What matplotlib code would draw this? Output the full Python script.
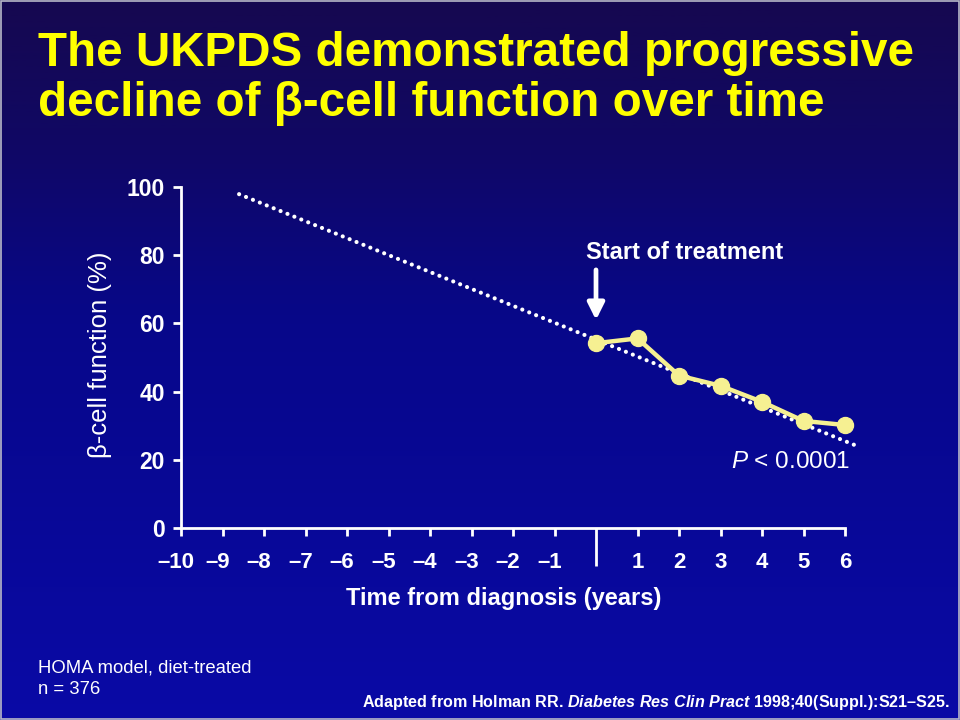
import numpy as np
import matplotlib
matplotlib.use("Agg")
import matplotlib.pyplot as plt
from matplotlib.colors import LinearSegmentedColormap
from matplotlib.patches import Rectangle
from matplotlib.transforms import ScaledTranslation

plt.rcParams['font.family'] = ['Liberation Sans', 'DejaVu Sans']
plt.rcParams['mathtext.fontset'] = 'custom'
plt.rcParams['mathtext.rm'] = 'Liberation Sans'
plt.rcParams['mathtext.it'] = 'Liberation Sans:italic:bold'
plt.rcParams['mathtext.bf'] = 'Liberation Sans:bold'
plt.rcParams['mathtext.sf'] = 'Liberation Sans:italic'

# ---- data ----
years = [0, 1, 2, 3, 4, 5, 6]
beta_function = [54.2, 55.6, 44.7, 41.7, 37.0, 31.4, 30.2]
trend_years = [-8.6, 6.3]
trend_values = [97.9, 24.0]
xtick_values = [-10, -9, -8, -7, -6, -5, -4, -3, -2, -1, 1, 2, 3, 4, 5, 6]
xtick_labels = ['–10', '–9', '–8', '–7', '–6', '–5', '–4', '–3', '–2', '–1',
                '1', '2', '3', '4', '5', '6']
ytick_values = [0, 20, 40, 60, 80, 100]
ytick_labels = ['0', '20', '40', '60', '80', '100']

W, H = 960, 720
fig = plt.figure(figsize=(W / 100, H / 100), dpi=100)

# background gradient
bg = fig.add_axes([0, 0, 1, 1], zorder=-10)
cmap = LinearSegmentedColormap.from_list(
    'bg', [(0.0, '#160850'), (0.18, '#110862'), (0.45, '#07078a'), (1.0, '#0a0aa6')])
grad = np.linspace(0, 1, 256).reshape(-1, 1)
bg.imshow(grad, aspect='auto', cmap=cmap, extent=[0, 1, 0, 1], origin='upper')
bg.set_xlim(0, 1); bg.set_ylim(0, 1)
bg.axis('off')
bg.add_patch(Rectangle((0.001, 0.001), 0.998, 0.998, fill=False,
                       edgecolor='#b8b8c8', lw=1.2))

white = 'white'
yellow = '#f6f092'

ax = fig.add_axes([181 / W, 1 - 528 / H, (845 - 181) / W, (528 - 187) / H])
ax.set_facecolor('none')
ax.set_xlim(-10, 6)
ax.set_ylim(0, 100)

for s in ['top', 'right']:
    ax.spines[s].set_visible(False)
for s in ['left', 'bottom']:
    ax.spines[s].set_color(white)
    ax.spines[s].set_linewidth(2.0)

ax.set_xticks(xtick_values)
ax.set_xticklabels(xtick_labels)
ax.set_xticks([0], minor=True)
ax.set_yticks(ytick_values)
ax.set_yticklabels(ytick_labels)
ax.tick_params(axis='x', which='major', direction='out', length=5.5, width=2.0,
               color=white, labelcolor=white, labelsize=16, pad=11.5)
ax.tick_params(axis='x', which='minor', direction='out', length=27, width=2.0,
               color=white)
ax.tick_params(axis='y', direction='out', length=5.5, width=2.0,
               color=white, labelcolor=white, labelsize=16.5, pad=6)
for lab in ax.get_xticklabels() + ax.get_yticklabels():
    lab.set_fontweight('bold')
shift = ScaledTranslation(-5 / 100, 0, fig.dpi_scale_trans)
for lab in ax.get_xticklabels():
    if lab.get_text().startswith('–'):
        lab.set_transform(lab.get_transform() + shift)

# trend (dotted)
ax.plot(trend_years, trend_values, color=white, lw=3.0, dashes=(0.01, 1.78),
        dash_capstyle='round', clip_on=False, zorder=2)
# data
ax.plot(years, beta_function, color=yellow, lw=3.2, marker='o', markersize=11.5,
        markerfacecolor=yellow, markeredgecolor=yellow, clip_on=False, zorder=3)

# arrow and annotations
ax.annotate('', xy=(years[0], beta_function[0] + 6.8),
            xytext=(years[0], beta_function[0] + 21.5),
            arrowprops=dict(arrowstyle='-|>,head_length=1.0,head_width=0.5',
                            color=white, lw=3.4, shrinkA=0, shrinkB=0))
ax.text(2.14, 80.9, 'Start of treatment', color=white, fontsize=17,
        fontweight='bold', ha='center', va='center')
ax.text(6.12, 19.4, r'$\mathsf{P}$ < 0.0001', color=white, fontsize=17.5,
        ha='right', va='center')

# axis labels
fig.text(100 / W, 1 - 355 / H, 'β-cell function (%)', rotation=90, color=white,
         fontsize=18.5, ha='center', va='center')
fig.text(504 / W, 1 - 598 / H, 'Time from diagnosis (years)', color=white,
         fontsize=17, fontweight='bold', ha='center', va='center')

# title
fig.text(38 / W, 1 - 53 / H, 'The UKPDS demonstrated progressive', color='#ffff00',
         fontsize=34.3, fontweight='bold', ha='left', va='center')
fig.text(38 / W, 1 - 104 / H, 'decline of β-cell function over time', color='#ffff00',
         fontsize=34.3, fontweight='bold', ha='left', va='center')

# footer
fig.text(38 / W, 1 - 668 / H, 'HOMA model, diet-treated', color=white,
         fontsize=13.3, ha='left', va='center')
fig.text(38 / W, 1 - 690 / H, 'n = 376', color=white,
         fontsize=13.3, ha='left', va='center')
fig.text(950 / W, 1 - 703 / H,
         r'Adapted from Holman RR. $\mathit{Diabetes\ Res\ Clin\ Pract}$ 1998;40(Suppl.):S21–S25.',
         color=white, fontsize=11.6, fontweight='bold', ha='right', va='center')

fig.savefig('out.png', dpi=100)
